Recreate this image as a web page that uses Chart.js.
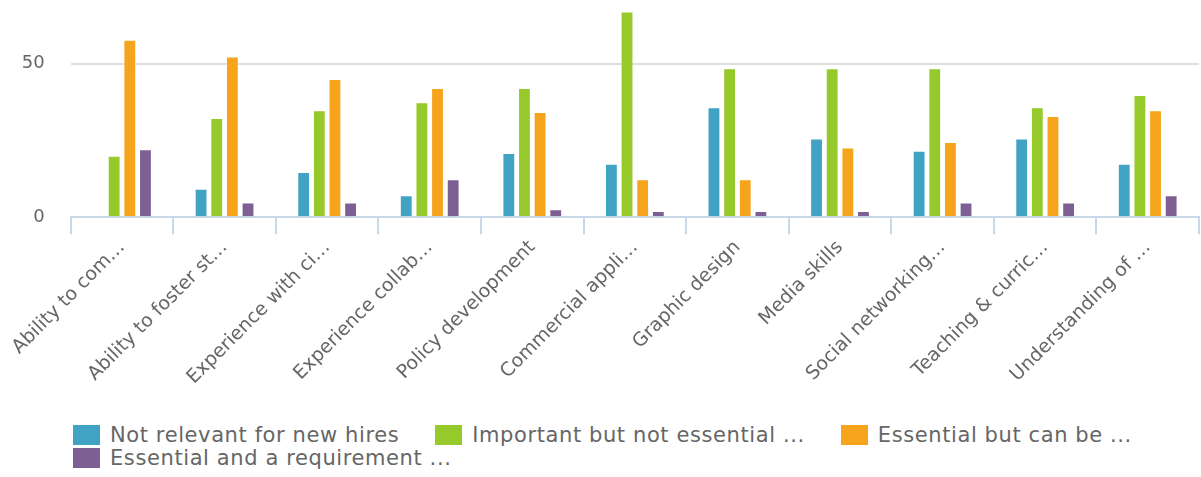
<!DOCTYPE html>
<html>
<head>
<meta charset="utf-8">
<script src="https://cdn.jsdelivr.net/npm/chart.js@4/dist/chart.umd.min.js"></script>
<style>
  html, body { margin: 0; padding: 0; background: #fff; }
  #wrap { position: relative; width: 1201px; height: 477px; }
  #chart { position: absolute; left: 0; top: 0; }
  #legend {
    position: absolute; left: 73px; top: 425px; width: 1100px;
    display: flex; flex-wrap: wrap; row-gap: 3px; column-gap: 36px;
    font-family: "DejaVu Sans", Verdana, sans-serif; font-size: 21px;
    letter-spacing: 0.6px; color: #666;
  }
  .item { display: flex; align-items: center; height: 20px; white-space: nowrap; }
  .swatch { width: 27px; height: 20px; margin-right: 10px; }
</style>
</head>
<body>
<div id="wrap">
  <canvas id="chart" width="1201" height="420"></canvas>
  <div id="legend"></div>
</div>
<script>
// Skill categories (labels already shortened as shown on the axis)
const categories = [
  "Ability to com\u2026",
  "Ability to foster st\u2026",
  "Experience with ci\u2026",
  "Experience collab\u2026",
  "Policy development",
  "Commercial appli\u2026",
  "Graphic design",
  "Media skills",
  "Social networking\u2026",
  "Teaching & curric\u2026",
  "Understanding of \u2026"
];

const seriesNames = [
  "Not relevant for new hires",
  "Important but not essential ...",
  "Essential but can be ...",
  "Essential and a requirement ..."
];

const notRelevant       = [0, 9.3, 14.7, 7.2, 20.9, 17.4, 35.8, 25.6, 21.6, 25.6, 17.4];
const importantNotEss   = [20, 32.3, 34.8, 37.4, 42, 66.9, 48.5, 48.5, 48.5, 35.8, 39.8];
const essentialCanBe    = [57.7, 52.3, 45, 42, 34.2, 12.4, 12.4, 22.7, 24.5, 32.9, 34.8];
const essentialRequired = [22.1, 4.8, 4.8, 12.4, 2.6, 2.05, 2.05, 2.05, 4.8, 4.8, 7.2];

const yTicks = [0, 50];

const colors = ["#41a3c3", "#96c92a", "#f5a41b", "#7d5f93"];
const seriesValues = [notRelevant, importantNotEss, essentialCanBe, essentialRequired];

const datasets = seriesNames.map((name, i) => ({
  label: name,
  data: seriesValues[i],
  backgroundColor: colors[i],
  borderColor: "rgba(255,255,255,0.45)",
  borderWidth: 1,
  categoryPercentage: 0.61,
  barPercentage: 0.82
}));

const axisBlue = "#c9d8e6";
const font = "'DejaVu Sans', Verdana, sans-serif";

new Chart(document.getElementById("chart"), {
  type: "bar",
  data: { labels: categories, datasets },
  options: {
    responsive: false,
    animation: false,
    layout: { padding: { top: 2, right: 2, left: 0, bottom: 0 } },
    plugins: { legend: { display: false }, tooltip: { enabled: false } },
    scales: {
      x: {
        grid: {
          offset: true,
          drawOnChartArea: false,
          drawTicks: true,
          tickLength: 17,
          color: axisBlue,
          lineWidth: 2
        },
        border: { display: true, color: axisBlue, width: 2 },
        ticks: {
          autoSkip: false,
          maxRotation: 45,
          minRotation: 45,
          padding: 2,
          color: "#666",
          font: { family: font, size: 19 }
        },
        afterFit(scale) { scale.height = 420 - 217.3; }
      },
      y: {
        min: 0,
        max: 70,
        afterBuildTicks(scale) { scale.ticks = yTicks.map(v => ({ value: v })); },
        grid: {
          drawTicks: true,
          tickLength: 26,
          tickColor: "rgba(0,0,0,0)",
          color: ctx => (ctx.tick && ctx.tick.value === 0) ? "rgba(0,0,0,0)" : "#dedede",
          lineWidth: 2
        },
        border: { display: false },
        ticks: {
          padding: 0,
          color: "#666",
          font: { family: font, size: 18, lineHeight: 0.2 }
        },
        afterFit(scale) { scale.width = 70.7; }
      }
    }
  }
});

// Legend below the plot
const legend = document.getElementById("legend");
seriesNames.forEach((name, i) => {
  const item = document.createElement("div");
  item.className = "item";
  const sw = document.createElement("span");
  sw.className = "swatch";
  sw.style.background = colors[i];
  const tx = document.createElement("span");
  tx.textContent = name;
  item.appendChild(sw);
  item.appendChild(tx);
  legend.appendChild(item);
});
</script>
</body>
</html>
